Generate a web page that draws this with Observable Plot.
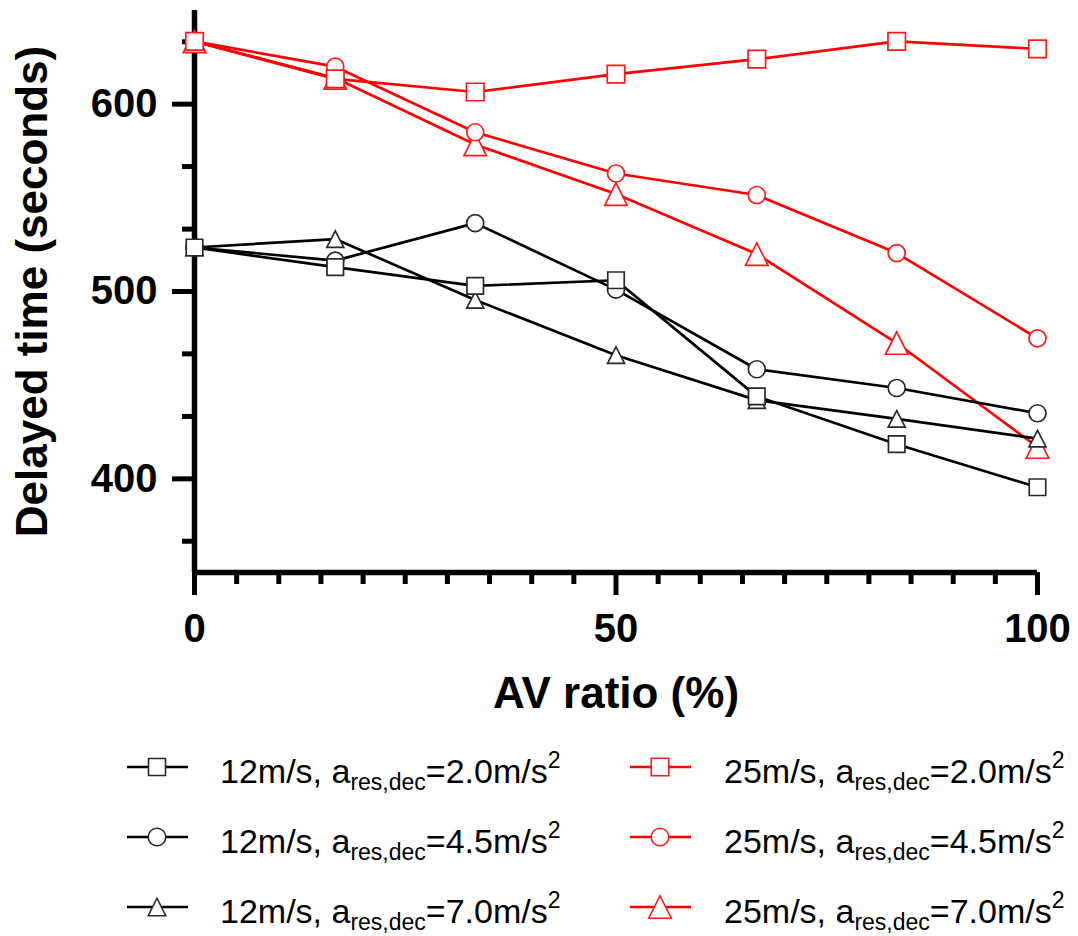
<!DOCTYPE html>
<html><head><meta charset="utf-8">
<script src="https://cdn.jsdelivr.net/npm/d3@7"></script>
<script src="https://cdn.jsdelivr.net/npm/@observablehq/plot@0.6"></script>
<style>
body{margin:0;background:#fff;}
#chart{width:1078px;}
svg{display:block;}
</style></head><body><div id="chart"></div>
<script>
// ---- data ----
const avRatio = [0, 16.7, 33.3, 50, 66.7, 83.3, 100];
const v12_dec20 = [523.5, 513, 503, 506, 444, 418.5, 395.5];
const v12_dec45 = [523.5, 516.5, 536.5, 501, 458.5, 448.5, 435];
const v12_dec70 = [523.5, 528, 495.5, 466, 442, 432, 421.5];
const v25_dec20 = [633.5, 613.5, 606.5, 616, 624, 633.5, 629.5];
const v25_dec45 = [633.5, 620, 585, 563, 551.5, 520.5, 475];
const v25_dec70 = [633.5, 614, 578.5, 552, 520, 472.5, 417];
const speeds = ["12m/s", "25m/s"];
const decels = ["2.0", "4.5", "7.0"];
const xTicks = [0, 50, 100];
const xMinorTicks = [5, 10, 15, 20, 25, 30, 35, 40, 45, 55, 60, 65, 70, 75, 80, 85, 90, 95];
const yTicks = [400, 500, 600];
const yMinorTicks = [366.7, 433.3, 466.7, 533.3, 566.7, 633.3];
const xTitle = "AV ratio (%)";
const yTitle = "Delayed time (seconds)";

// ---- styles ----
const FONT = "'Liberation Sans', Arial, Helvetica, sans-serif";
const speedColor = {"12m/s": "#000000", "25m/s": "#ff0000"};
const markerStroke = {"12m/s": "#2a2a2a", "25m/s": "#ff1a1a"};
function squareSym(w) { return {draw(c) { c.moveTo(-w/2, -w/2); c.lineTo(w/2, -w/2); c.lineTo(w/2, w/2); c.lineTo(-w/2, w/2); c.closePath(); }}; }
function triSym(w, h) { return {draw(c) { c.moveTo(0, -h/2); c.lineTo(w/2, h/2); c.lineTo(-w/2, h/2); c.closePath(); }}; }
function circSym(r) { return {draw(c) { c.moveTo(r, 0); c.arc(0, 0, r, 0, 2 * Math.PI); c.closePath(); }}; }
const symbolFor = {
  "12m/s|2.0": squareSym(16.5), "12m/s|4.5": circSym(8.5), "12m/s|7.0": triSym(17, 16.5),
  "25m/s|2.0": squareSym(17.5), "25m/s|4.5": circSym(8.5), "25m/s|7.0": triSym(22.5, 22.5)
};
const legendSymbolFor = {
  "12m/s|2.0": squareSym(17), "12m/s|4.5": circSym(8.8), "12m/s|7.0": triSym(17.5, 17.5),
  "25m/s|2.0": squareSym(17.5), "25m/s|4.5": circSym(8.8), "25m/s|7.0": triSym(22.5, 22.5)
};

const series = [
  {speed: "12m/s", dec: "2.0", values: v12_dec20},
  {speed: "12m/s", dec: "4.5", values: v12_dec45},
  {speed: "12m/s", dec: "7.0", values: v12_dec70},
  {speed: "25m/s", dec: "2.0", values: v25_dec20},
  {speed: "25m/s", dec: "4.5", values: v25_dec45},
  {speed: "25m/s", dec: "7.0", values: v25_dec70}
];

const seriesMarks = [];
[...series].reverse().forEach(s => {
  const rows = avRatio.map((x, i) => ({x, y: s.values[i]}));
  seriesMarks.push(Plot.line(rows, {x: "x", y: "y", stroke: speedColor[s.speed], strokeWidth: 2.7, strokeLinejoin: "round"}));
  seriesMarks.push(Plot.dot(rows, {x: "x", y: "y", symbol: symbolFor[s.speed + "|" + s.dec], r: 8, fill: "white", stroke: markerStroke[s.speed], strokeWidth: 1.7}));
});

const W = 1078, H = 732, AXIS_Y = 572;
const plot = Plot.plot({
  width: W, height: H,
  marginTop: 10, marginBottom: H - AXIS_Y, marginLeft: 194, marginRight: 41,
  style: {fontFamily: FONT, background: "#fff", color: "#000", overflow: "visible"},
  x: {domain: [0, 100]},
  y: {domain: [350, 650]},
  marks: [
    Plot.axisX({ticks: xMinorTicks, tickSize: 12, strokeWidth: 5, fill: "none", label: null}),
    Plot.axisX({ticks: xTicks, tickSize: 23, tickPadding: 18, strokeWidth: 5, fontSize: 40, fontWeight: "bold", label: null}),
    Plot.axisY({ticks: yMinorTicks, tickSize: 12, strokeWidth: 5, fill: "none", label: null}),
    Plot.axisY({ticks: yTicks, tickSize: 22, tickPadding: 15, strokeWidth: 5, fontSize: 40, fontWeight: "bold", label: null}),
    Plot.ruleX([0], {strokeWidth: 5.5}),
    Plot.ruleY([350], {strokeWidth: 5.5}),
    Plot.text([xTitle], {frameAnchor: "bottom", dy: 121, fontSize: 44, fontWeight: "bold", lineAnchor: "middle", textAnchor: "middle"}),
    Plot.text([yTitle], {frameAnchor: "left", dx: -162, rotate: -90, fontSize: 44, fontWeight: "bold", lineAnchor: "middle", textAnchor: "middle"}),
    ...seriesMarks
  ]
});
document.getElementById("chart").appendChild(plot);

// ---- legend (below the plot) ----
const legend = d3.create("svg").attr("width", W).attr("height", 204);
series.forEach(s => {
  const col = speeds.indexOf(s.speed), row = decels.indexOf(s.dec);
  const cx = col ? 660 : 157, cy = 35 + row * 70;
  const g = legend.append("g");
  g.append("line").attr("x1", cx - 30).attr("x2", cx + 31).attr("y1", cy).attr("y2", cy)
    .attr("stroke", speedColor[s.speed]).attr("stroke-width", 2.7);
  const p = d3.path();
  legendSymbolFor[s.speed + "|" + s.dec].draw(p);
  g.append("path").attr("d", p.toString()).attr("transform", `translate(${cx},${cy})`)
    .attr("fill", "white").attr("stroke", markerStroke[s.speed]).attr("stroke-width", 1.6);
  const t = g.append("text").attr("x", col ? 724 : 220).attr("y", cy + 16)
    .attr("font-family", FONT).attr("font-size", 34).attr("fill", "#000");
  t.append("tspan").text(`${s.speed}, a`);
  t.append("tspan").attr("font-size", 23).attr("dy", 7).text("res,dec");
  t.append("tspan").attr("dy", -7).text(`=${s.dec}m/s`);
  t.append("tspan").attr("font-size", 23).attr("dy", -15).text("2");
});
document.getElementById("chart").appendChild(legend.node());
</script>
</body></html>
